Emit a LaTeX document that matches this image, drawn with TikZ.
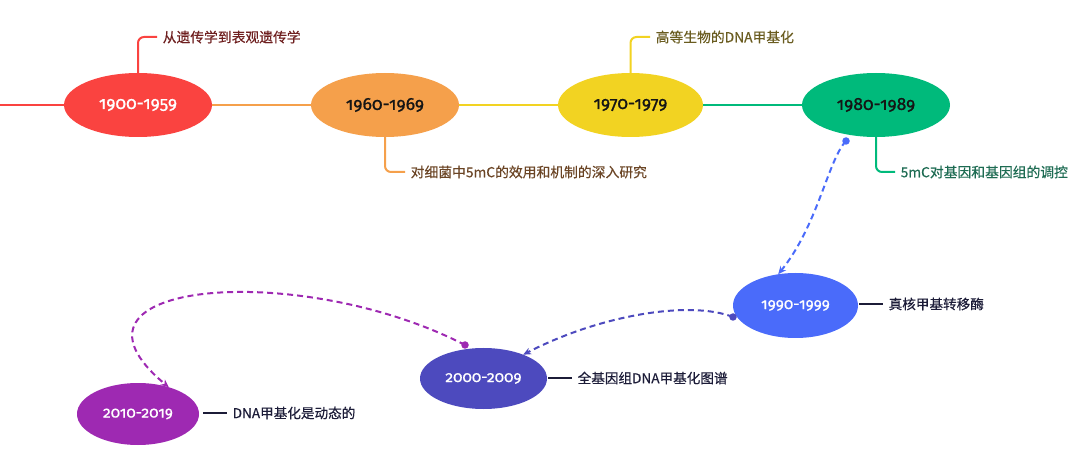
\documentclass[tikz,border=0pt]{standalone}
\usepackage{fontspec}
\newfontfamily\cjk[FakeBold=0.4]{Noto Sans CJK SC}
\newfontfamily\datefont[Numbers=OldStyle,FakeBold=1.0]{Fira Sans}
\newfontfamily\lowdatefont[Numbers=OldStyle,FakeBold=0.5]{Fira Sans}
\usetikzlibrary{shapes.geometric,arrows.meta}
\definecolor{cRed}{HTML}{FA4340}
\definecolor{cOrange}{HTML}{F5A04B}
\definecolor{cYellow}{HTML}{F2D322}
\definecolor{cGreen}{HTML}{00BA7B}
\definecolor{cBlue}{HTML}{4A6BFA}
\definecolor{cIndigo}{HTML}{4D4ABE}
\definecolor{cPurple}{HTML}{9E29B2}
\definecolor{tRed}{HTML}{6E1F1F}
\definecolor{tBrown}{HTML}{6B4525}
\definecolor{tOlive}{HTML}{6A5C20}
\definecolor{tGreen}{HTML}{1D6B52}
\definecolor{tNavy}{HTML}{1C1C38}
\definecolor{tDark}{HTML}{151515}
\tikzset{
  period/.style={ellipse,inner sep=0pt,outer sep=0pt,font=\datefont\fontsize{17.5}{17.5}\selectfont},
  lowperiod/.style={period,font=\lowdatefont\fontsize{15.5}{15.5}\selectfont,text=white},
  toplabel/.style={anchor=west,inner xsep=5.5pt,inner ysep=0pt,font=\cjk\fontsize{13.8}{14}\selectfont},
  sublabel/.style={anchor=west,inner xsep=5.5pt,inner ysep=0pt,font=\cjk\fontsize{13.6}{14}\selectfont,text=tNavy},
  mainline/.style={line width=2.6pt},
  branch/.style={line width=2pt,rounded corners=6pt},
  sideline/.style={line width=2pt,draw=tNavy},
  flow/.style={line width=2pt,dash pattern=on 6pt off 4pt,-{Stealth[length=8pt,width=7pt]}},
  dotmark/.style={circle,inner sep=0pt,minimum size=7.5pt}
}
\begin{document}
\begin{tikzpicture}[x=1pt,y=-1pt]
\useasboundingbox (0,0) rectangle (1080,457);
% periods
\node[period,fill=cRed,text=white,minimum width=148pt,minimum height=64pt] (n1) at (138,105) {1900-1959};
\node[period,fill=cOrange,text=tDark,minimum width=148pt,minimum height=64pt] (n2) at (385,105) {1960-1969};
\node[period,fill=cYellow,text=tDark,minimum width=145pt,minimum height=64pt] (n3) at (630.5,105) {1970-1979};
\node[period,fill=cGreen,text=tDark,minimum width=148pt,minimum height=64pt] (n4) at (876,105) {1980-1989};
\node[lowperiod,fill=cBlue,minimum width=125pt,minimum height=65pt] (n5) at (795.5,305.5) {1990-1999};
\node[lowperiod,fill=cIndigo,minimum width=127pt,minimum height=61pt] (n6) at (483.5,378.5) {2000-2009};
\node[lowperiod,fill=cPurple,minimum width=122pt,minimum height=62pt] (n7) at (138,414) {2010-2019};
% main timeline
\coordinate (s0) at (0,105);
\draw[mainline,cRed] (s0) -- (n1.west);
\draw[mainline,cOrange] (n1.east) -- (n2.west);
\draw[mainline,cYellow] (n2.east) -- (n3.west);
\draw[mainline,cGreen] (n3.east) -- (n4.west);
% top/bottom labels
\node[toplabel,text=tRed] (l1) at (157,37) {从遗传学到表观遗传学};
\node[toplabel,text=tBrown] (l2) at (405,172) {对细菌中5mC的效用和机制的深入研究};
\node[toplabel,text=tOlive] (l3) at (650,37) {高等生物的DNA甲基化};
\node[toplabel,text=tGreen] (l4) at (895,172) {5mC对基因和基因组的调控};
\draw[branch,cRed] (n1.north) |- (l1.west);
\draw[branch,cOrange] (n2.south) |- (l2.west);
\draw[branch,cYellow] (n3.north) |- (l3.west);
\draw[branch,cGreen] (n4.south) |- (l4.west);
% side labels
\node[sublabel] (l5) at (883,304) {真核甲基转移酶};
\node[sublabel] (l6) at (572,378) {全基因组DNA甲基化图谱};
\node[sublabel] (l7) at (227,413) {DNA甲基化是动态的};
\coordinate (e5) at (859,304);
\coordinate (e6) at (548,378);
\coordinate (e7) at (203,413);
\draw[sideline] (e5) -- (l5.west);
\draw[sideline] (e6) -- (l6.west);
\draw[sideline] (e7) -- (l7.west);
% dashed flow connectors
\node[dotmark,fill=cBlue] (d1) at (846,141) {};
\node[dotmark,fill=cIndigo] (d2) at (733,317) {};
\node[dotmark,fill=cPurple] (d3) at (465,345) {};
\draw[flow,cBlue] (d1.center) .. controls (828,160) and (818,225) .. (n5.119);
\draw[flow,cIndigo] (d2.center) .. controls (690,300) and (600,315) .. (n6.31);
\draw[flow,cPurple] (d3.center) .. controls (300,260) and (40,280) .. (n7.41);
\end{tikzpicture}
\end{document}
